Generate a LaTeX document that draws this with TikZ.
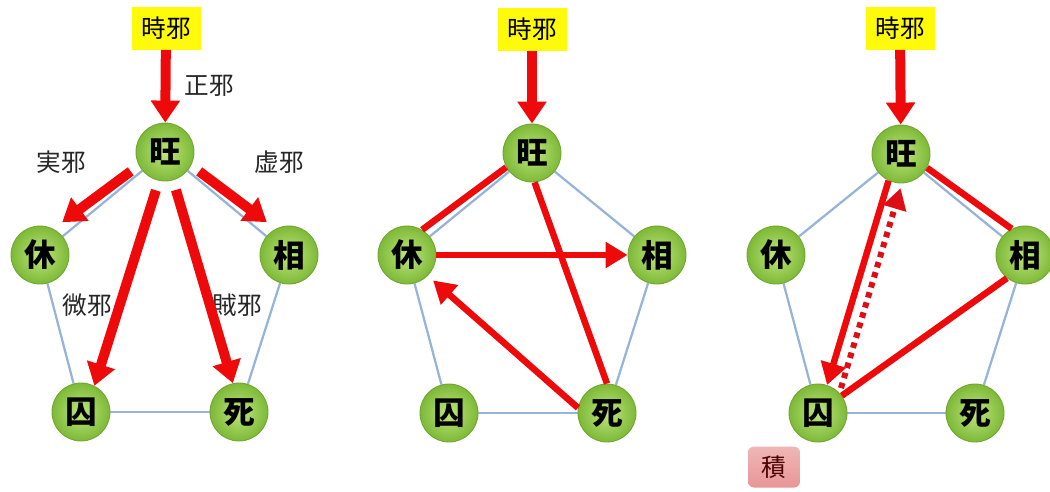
\documentclass[tikz,border=0pt]{standalone}
\usepackage{fontspec}
\newfontfamily\jp{Noto Sans CJK JP}
\usetikzlibrary{arrows.meta,backgrounds}
\definecolor{ballin}{RGB}{190,230,125}
\definecolor{ballout}{RGB}{125,185,55}
\definecolor{balledge}{RGB}{115,165,50}
\definecolor{srcyellow}{RGB}{255,250,10}
\definecolor{rimblue}{RGB}{150,180,215}
\definecolor{arrowred}{RGB}{238,10,10}
\definecolor{dotred}{RGB}{222,14,22}
\definecolor{jipink}{RGB}{232,150,150}
\begin{document}
\begin{tikzpicture}[x=0.2mm, y=-0.2mm, font=\jp,
    ball/.style={circle, draw=balledge, line width=0.5pt, minimum size=11.6mm, inner sep=0pt,
      inner color=ballin, outer color=ballout, font=\jp\bfseries\fontsize{18}{18}\selectfont},
    src/.style={rectangle, fill=srcyellow, minimum width=13.8mm, minimum height=8.6mm,
      inner sep=0pt, font=\jp\fontsize{14}{14}\selectfont},
    lbl/.style={text=black!85, font=\jp\fontsize{14}{14}\selectfont},
    rim/.style={draw=rimblue, line width=0.45mm},
    fat/.style={draw=arrowred, line width=2mm, -{Triangle[length=4.4mm,width=5.6mm]}},
    bar/.style={draw=arrowred, line width=1.3mm},
    bararrow/.style={bar, -{Triangle[length=4.4mm,width=5mm]}},
    dotbar/.style={draw=dotred, line width=1.2mm, dash pattern=on 1.1mm off 1mm,
      -{Triangle[length=4.2mm,width=4.6mm]}}]
  \useasboundingbox (0,0) rectangle (1050,491);
  % left
  \node (1) at (166,28) [src] {時邪};
  \node (2) at (165,152) [ball] {旺};
  \node (3) at (40,255) [ball] {休};
  \node (4) at (289,255) [ball] {相};
  \node (5) at (81,412) [ball] {囚};
  \node (6) at (239,412) [ball] {死};
  % middle
  \node (7) at (532,29) [src] {時邪};
  \node (8) at (532,153) [ball] {旺};
  \node (9) at (407,255) [ball] {休};
  \node (10) at (657,255) [ball] {相};
  \node (11) at (449,413) [ball] {囚};
  \node (12) at (607,413) [ball] {死};
  % right
  \node (13) at (900,28) [src] {時邪};
  \node (14) at (901,154) [ball] {旺};
  \node (15) at (776,255) [ball] {休};
  \node (16) at (1025,255) [ball] {相};
  \node (17) at (818,413) [ball] {囚};
  \node (18) at (975,413) [ball] {死};
  \node (19) at (774,467) [rectangle, rounded corners=1.2mm, top color=jipink!70, bottom color=jipink,
    minimum width=10.4mm, minimum height=8.2mm, inner sep=0pt, text=black!70!red,
    font=\jp\fontsize{14}{14}\selectfont] {積};
  % labels
  \node (20) at (209,86) [lbl] {正邪};
  \node (21) at (61,162) [lbl] {実邪};
  \node (22) at (279,162) [lbl] {虚邪};
  \node (23) at (87,305) [lbl] {微邪};
  \node (24) at (237,305) [lbl] {賊邪};
  \begin{scope}[on background layer]
    \foreach \source/\dest in {2/3, 2/4, 3/5, 4/6, 5/6, 8/9, 8/10, 9/11, 10/12, 11/12,
        14/15, 14/16, 15/17, 16/18, 17/18}
      \path[rim] (\source) edge (\dest);
  \end{scope}
  \foreach \source/\dest in {1/2, 7/8, 13/14}
    \draw[fat] (\source) -- (\dest);
  \draw[fat, shorten <=2mm, shorten >=2.2mm] (2.207) -- (3.63);
  \draw[fat, shorten <=2mm, shorten >=2.2mm] (2.-27) -- (4.117);
  \draw[fat, shorten <=2mm] (2.258) -- (5.63);
  \draw[fat, shorten <=2mm] (2.-74) -- (6.102);
  \draw[bar] (8.209) -- (9.59);
  \draw[bar] (8.-85) -- (12.90);
  \draw[bararrow] (9) -- (10);
  \draw[bararrow, shorten >=1.4mm] (12.170) -- (9.-45);
  \draw[bar] (14.-28) -- (16.117);
  \draw[bar] (16.232) -- (17.36);
  \draw[bararrow] (14.245) -- (17.72);
  \draw[dotbar, shorten <=1mm, shorten >=1mm] (17.43) -- (14.-88);
\end{tikzpicture}
\end{document}
